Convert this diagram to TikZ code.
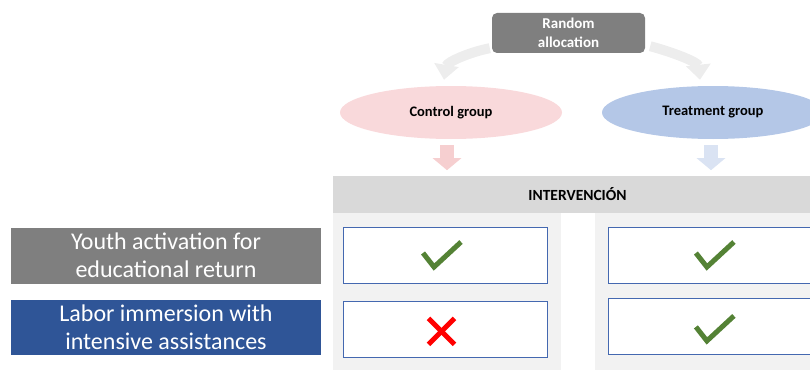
\documentclass[tikz,border=0pt]{standalone}
\usepackage{fontspec}
\setmainfont{Carlito}
\usepackage{tikz}
\usetikzlibrary{arrows.meta,positioning,shapes.geometric}
\usepackage{xcolor}

\definecolor{topgray}{HTML}{7F7F7F}
\definecolor{arrgray}{HTML}{EDEDED}
\definecolor{ctrlpink}{HTML}{F9D9DB}
\definecolor{pinkarr}{HTML}{F6CFD0}
\definecolor{treatblue}{HTML}{B4C7E7}
\definecolor{bluearr}{HTML}{DAE3F3}
\definecolor{headgray}{HTML}{D9D9D9}
\definecolor{colgray}{HTML}{F2F2F2}
\definecolor{cellblue}{HTML}{4468B0}
\definecolor{labblue}{HTML}{2F5597}
\definecolor{tickgreen}{HTML}{548235}

\begin{document}
\begin{tikzpicture}[
  x=1pt, y=-1pt,
  randbox/.style={fill=topgray, rounded corners=5pt, text=white, align=center, inner sep=0pt,
    minimum width=153pt, minimum height=40pt, font=\bfseries\fontsize{15}{18.5}\selectfont},
  grp/.style={ellipse, inner sep=0pt, minimum width=222pt, minimum height=53pt,
    font=\bfseries\fontsize{14.5}{17}\selectfont},
  curvarr/.style={draw=arrgray, line width=10pt, -{Triangle[width=24pt,length=15pt]}},
  downarr/.style={line width=14pt, -{Triangle[width=28pt,length=12pt]}},
  bandhead/.style={fill=headgray, inner sep=0pt, minimum width=490pt, minimum height=37pt,
    font=\bfseries\fontsize{15.5}{18}\selectfont},
  colbg/.style={fill=colgray, inner sep=0pt, minimum width=228pt, minimum height=160pt},
  cellbox/.style={draw=cellblue, line width=0.9pt, fill=white, inner sep=0pt,
    minimum width=204pt, minimum height=56pt},
  rowlab/.style={text=white, align=center, inner sep=0pt, minimum width=310pt,
    minimum height=56pt, font=\fontsize{24}{28}\selectfont},
  okmark/.style={draw=tickgreen, line width=5pt},
  nomark/.style={draw=red, line width=5pt}
]
\clip (0,0) rectangle (810,369);

% top of the scheme
\node[randbox] (rand) at (568.5,33) {Random\\allocation};
\node[grp, fill=ctrlpink] (ctrl) at (451,112.5) {Control group};
\node[grp, fill=treatblue] (treat) at (713,112.5) {Treatment group};

\draw[curvarr] ([shift={(-2,-5)}]rand.south west)
  .. controls (470,52) and (447,62) .. ([shift={(-7,-6)}]ctrl.north);
\draw[curvarr] ([shift={(5,-7)}]rand.south east)
  .. controls (672,52) and (698,62) .. ([shift={(-13,-6)}]treat.north);

\draw[downarr, pinkarr] ([shift={(-4,6)}]ctrl.south) -- ([shift={(-4,31)}]ctrl.south);
\draw[downarr, bluearr] ([shift={(-2,6)}]treat.south) -- ([shift={(-2,31)}]treat.south);

% intervention table
\node[colbg] (colL) at (447,293) {};
\node[colbg] (colR) at (709,293) {};
\node[bandhead] (band) at (577.5,194.5) {INTERVENCIÓN};

\node[cellbox] (c11) at (445,255) {};
\node[cellbox, right=61pt of c11] (c12) {};
\node[cellbox, below=18pt of c11] (c21) {};
\node[cellbox, below=15pt of c12] (c22) {};

\foreach \c/\dx/\dy in {c11/-3/0, c12/4/0, c22/4/2}
  \draw[okmark] ([shift={(\dx-19,\dy-2)}]\c.center) -- ([shift={(\dx-8,\dy+12)}]\c.center)
    -- ([shift={(\dx+19,\dy-13)}]\c.center);
\draw[nomark] ([shift={(-16.5,-11.5)}]c21.center) -- ([shift={(9.5,14.5)}]c21.center);
\draw[nomark] ([shift={(-16.5,14.5)}]c21.center) -- ([shift={(9.5,-11.5)}]c21.center);

% row labels
\node[rowlab, fill=topgray] (lab1) at (166,255.5) {Youth activation for\\educational return};
\node[rowlab, fill=labblue, minimum height=55pt, below=16pt of lab1] (lab2)
  {Labor immersion with\\intensive assistances};
\end{tikzpicture}
\end{document}
